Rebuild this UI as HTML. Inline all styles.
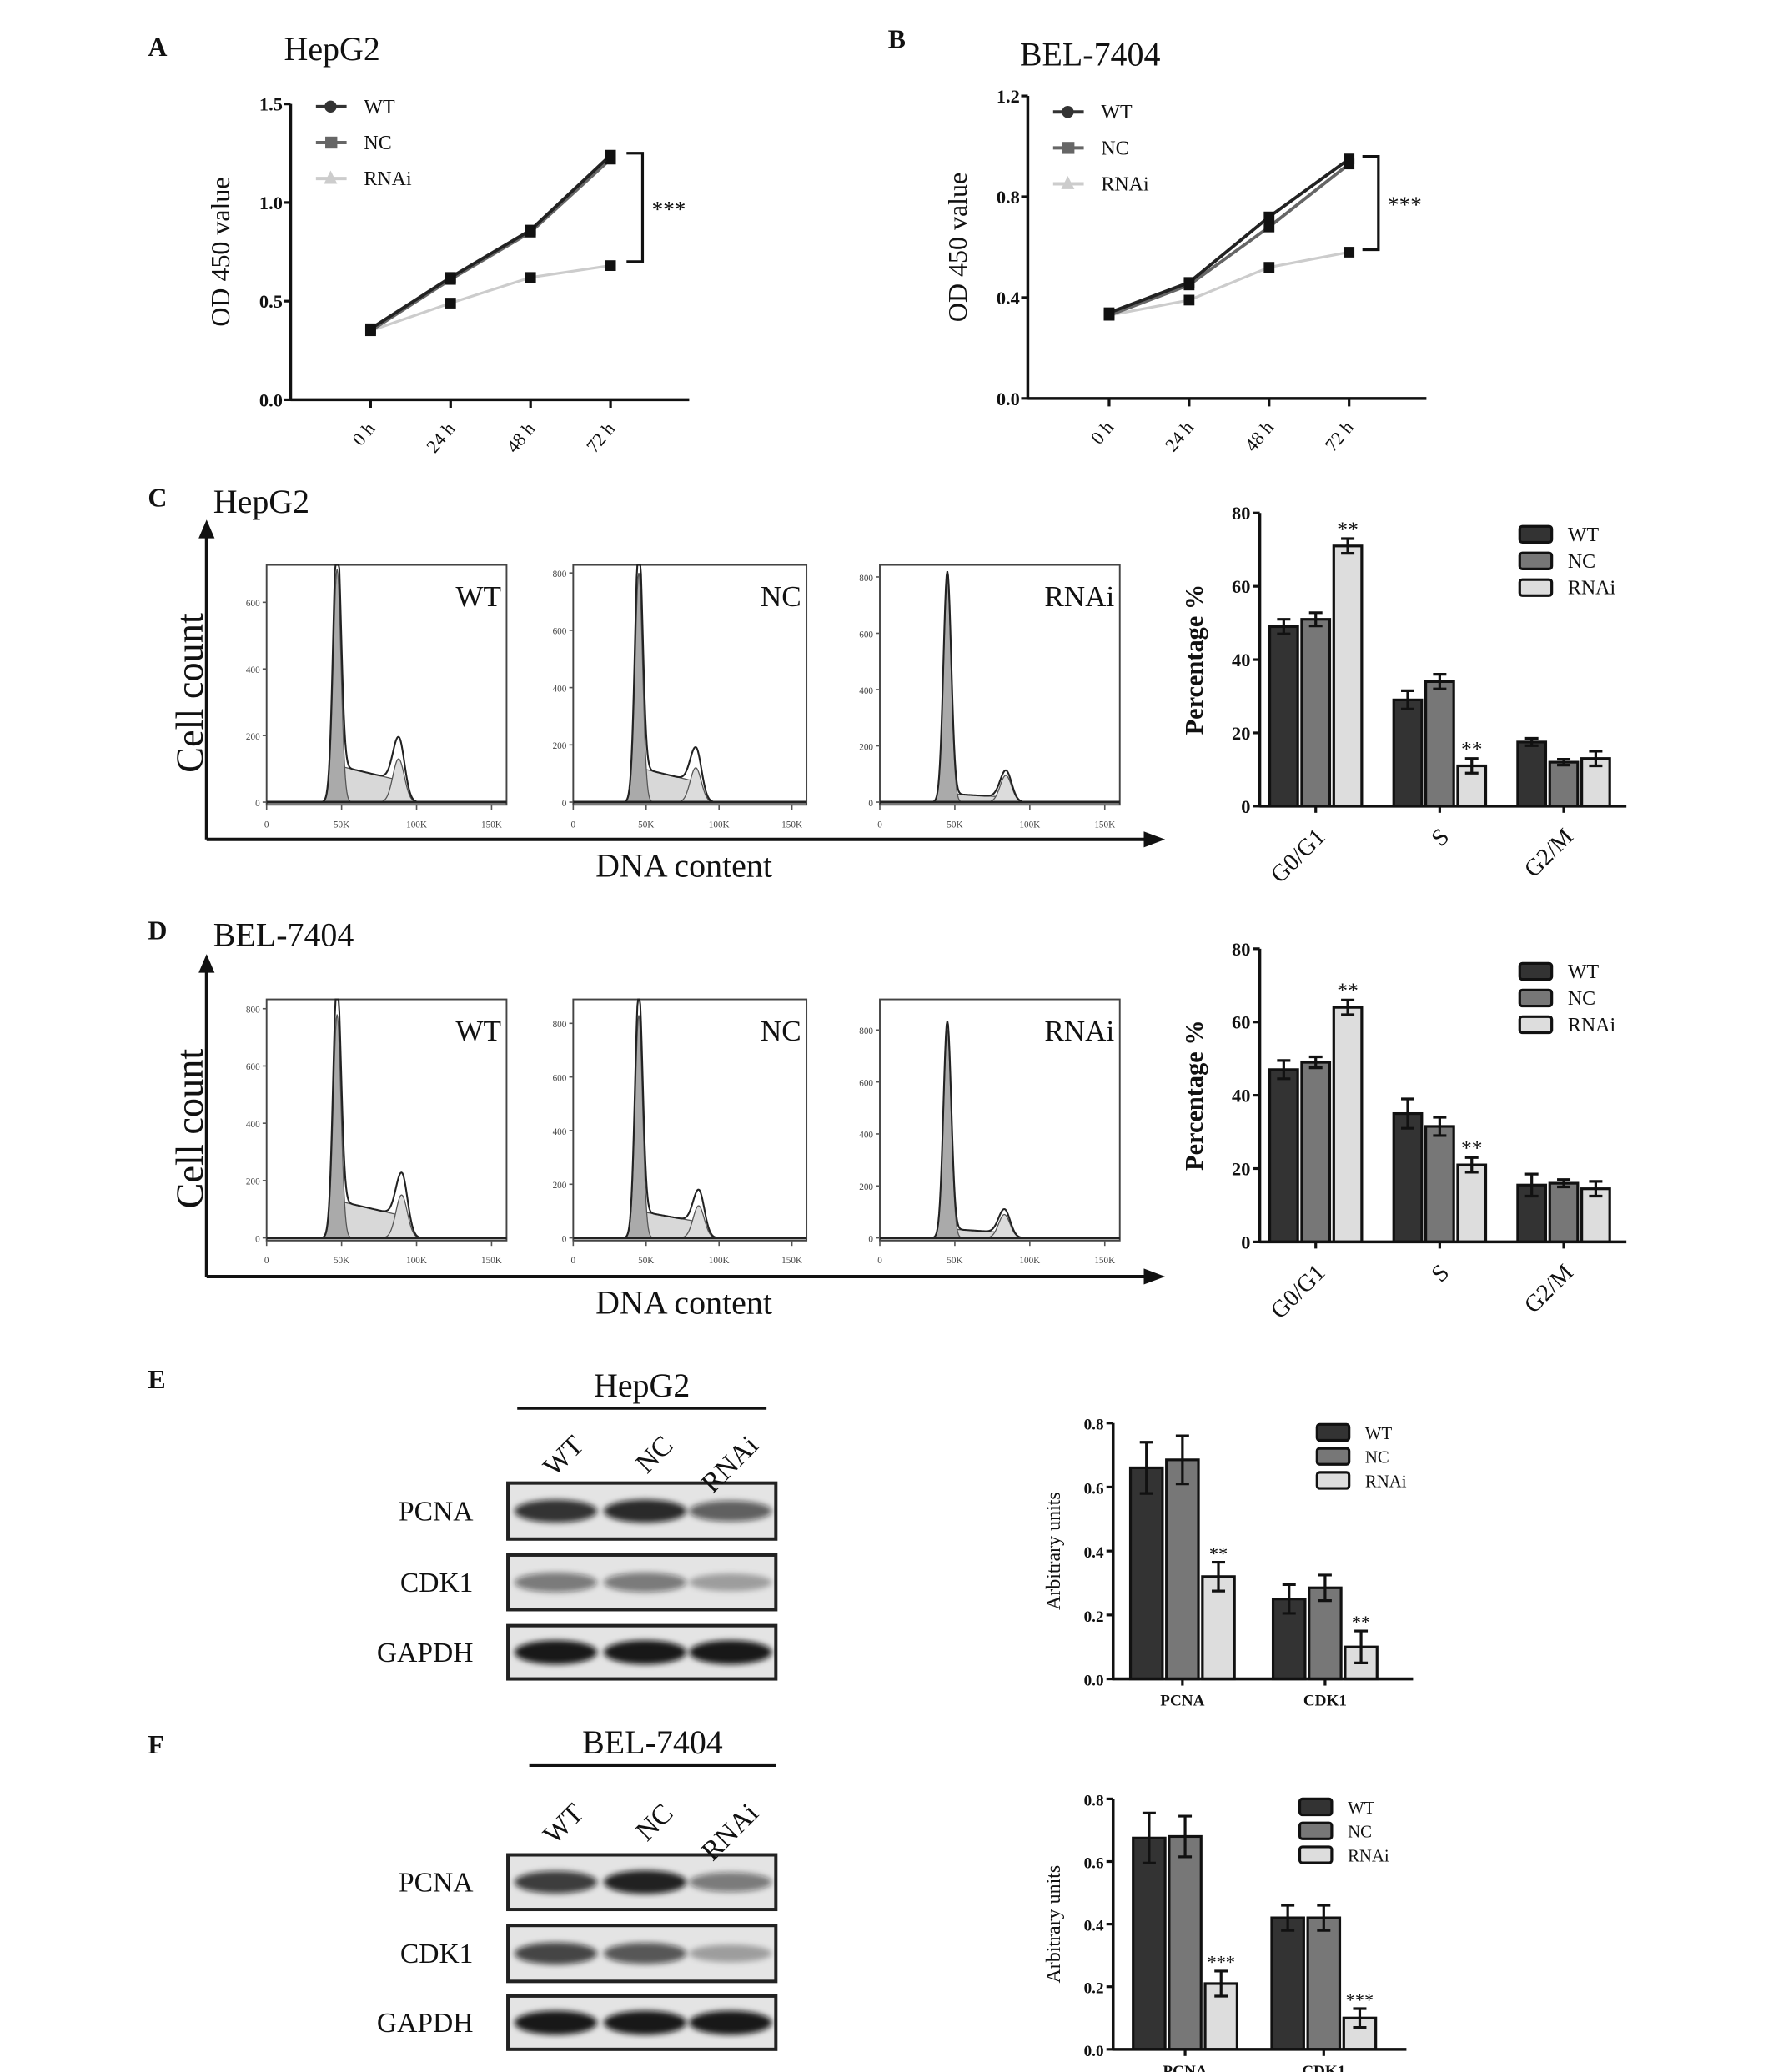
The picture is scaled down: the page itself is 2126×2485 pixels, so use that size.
<!DOCTYPE html>
<html><head><meta charset="utf-8"><style>
html,body{margin:0;padding:0;background:#fff;}
svg{display:block;font-family:"Liberation Serif",serif;}
</style></head><body>
<svg id="fig" width="2126" height="2485" viewBox="0 0 1330 1555" preserveAspectRatio="none" xmlns="http://www.w3.org/2000/svg">
<defs><filter id="blur" x="-20%" y="-50%" width="140%" height="200%"><feGaussianBlur stdDeviation="2.2"/></filter></defs>
</svg>
<script>
// ---------- data ----------
const timeCats=["0 h","24 h","48 h","72 h"];
const A_wt=[0.36,0.62,0.86,1.24];
const A_nc=[0.35,0.61,0.85,1.22];
const A_rnai=[0.35,0.49,0.62,0.68];
const A_ticks=[0,0.5,1.0,1.5];
const B_wt=[0.34,0.46,0.72,0.95];
const B_nc=[0.33,0.45,0.68,0.93];
const B_rnai=[0.33,0.39,0.52,0.58];
const B_ticks=[0,0.4,0.8,1.2];
const phaseCats=["G0/G1","S","G2/M"];
const C_wt=[49,29,17.5], C_wtErr=[2,2.5,1];
const C_nc=[51,34,12], C_ncErr=[1.8,2,0.8];
const C_rnai=[71,11,13], C_rnaiErr=[2,2,2];
const D_wt=[47,35,15.5], D_wtErr=[2.5,4,3];
const D_nc=[49,31.5,16], D_ncErr=[1.5,2.5,1];
const D_rnai=[64,21,14.5], D_rnaiErr=[2,2,2];
const pctTicks=[0,20,40,60,80];
const protCats=["PCNA","CDK1"];
const E_wt=[0.66,0.25], E_wtErr=[0.08,0.045];
const E_nc=[0.685,0.285], E_ncErr=[0.075,0.04];
const E_rnai=[0.32,0.10], E_rnaiErr=[0.045,0.05];
const F_wt=[0.675,0.42], F_wtErr=[0.08,0.04];
const F_nc=[0.68,0.42], F_ncErr=[0.065,0.04];
const F_rnai=[0.21,0.10], F_rnaiErr=[0.04,0.03];
const arbTicks=[0,0.2,0.4,0.6,0.8];
// flow histogram parameters: [G1 peak height, G1 pos(K), S level, G2 height, G2 pos(K)]
const hC_wt=[700,47,110,130,88], hC_nc=[800,45,120,120,84], hC_rnai=[790,45,30,95,84];
const hD_wt=[780,47,130,150,90], hD_nc=[830,45,100,120,86], hD_rnai=[800,45,35,90,83];
// blot intensities per lane
const E_blotPCNA=[0.85,0.9,0.6], E_blotCDK1=[0.45,0.45,0.2], E_blotGAPDH=[1,1,1];
const F_blotPCNA=[0.8,0.95,0.45], F_blotCDK1=[0.75,0.65,0.2], F_blotGAPDH=[1,1,1];

const NS="http://www.w3.org/2000/svg";
const svg=document.getElementById('fig');
function mk(tag,attrs,parent,txt){const e=document.createElementNS(NS,tag);for(const k in attrs)e.setAttribute(k,attrs[k]);if(txt!==undefined)e.textContent=txt;(parent||svg).appendChild(e);return e;}
function txt(x,y,s,size,opt,parent){opt=opt||{};const a={x:x,y:y,'font-size':size,fill:'#111'};if(opt.anchor)a['text-anchor']=opt.anchor;if(opt.bold)a['font-weight']='bold';if(opt.rot!==undefined)a.transform='rotate('+opt.rot+' '+x+' '+y+')';return mk('text',a,parent,s);}

// panel letters
[["A",111,42],["B",666,36],["C",111,380],["D",111,705],["E",111,1042],["F",111,1316]].forEach(p=>{
 const t=txt(p[1],p[2],p[0],20,{bold:true});
 
 
});

// ---------- line charts ----------
function lineChart(id,ox,yTop,yBot,xEnd,xs,ticks,ymax,series,title,tx,ty,bracket,legY){
 const g=mk('g',{});
 
 
 const Y=v=>yBot-(v/ymax)*(yBot-yTop);
 const X=i=>xs[0]+i*(xs[1]-xs[0]);
 const t=txt(tx,ty,title,25,{},g);
 
 
 mk('line',{x1:ox,y1:yTop,x2:ox,y2:yBot+1,stroke:'#111','stroke-width':2.2},g);
 mk('line',{x1:ox,y1:yBot,x2:xEnd,y2:yBot,stroke:'#111','stroke-width':2.2},g);
 ticks.forEach(v=>{mk('line',{x1:ox-5,y1:Y(v),x2:ox,y2:Y(v),stroke:'#111','stroke-width':2},g);
  const l=txt(ox-6,Y(v)+5,v.toFixed(1),14,{anchor:'end',bold:true},g);
  
  });
 timeCats.forEach((c,i)=>{mk('line',{x1:X(i),y1:yBot,x2:X(i),y2:yBot+6,stroke:'#111','stroke-width':2},g);
  const l=txt(X(i)+4,yBot+22,c,14,{anchor:'end',rot:-50},g);
  
  });
 const yt=txt(ox-46,(yTop+yBot)/2,'OD 450 value',20,{anchor:'middle',rot:-90},g);
 
 
 const cols=['#ccc','#666','#222'];
 const order=[series[2],series[1],series[0]];
 order.forEach((s,k)=>{
  const pts=s.map((v,i)=>X(i)+','+Y(v)).join(' ');
  const pl=mk('polyline',{points:pts,fill:'none',stroke:cols[k],'stroke-width':k==0?2:2.4},g);
  
  
  s.forEach((v,i)=>{const m=mk('rect',{x:X(i)-4,y:Y(v)-4,width:8,height:8,fill:'#111'},g);
   
   });
 });
 [['WT','#333'],['NC','#666'],['RNAi','#ccc']].forEach((e,k)=>{
  const lg=mk('g',{},g);
  
  
  const y=legY+k*27;
  mk('line',{x1:ox+19,y1:y,x2:ox+42,y2:y,stroke:e[1],'stroke-width':2.5},lg);
  if(k==0)mk('circle',{cx:ox+30,cy:y,r:4.5,fill:e[1]},lg);
  else if(k==1)mk('rect',{x:ox+26,y:y-4.5,width:9,height:9,fill:e[1]},lg);
  else mk('polygon',{points:(ox+30)+','+(y-6)+' '+(ox+35)+','+(y+4)+' '+(ox+25)+','+(y+4),fill:e[1]},lg);
  txt(ox+55,y+5,e[0],15,{},lg);
 });
 const b=bracket;
 const br=mk('polyline',{points:b[0]+','+Y(b[1])+' '+(b[0]+12)+','+Y(b[1])+' '+(b[0]+12)+','+Y(b[2])+' '+b[0]+','+Y(b[2]),fill:'none',stroke:'#111','stroke-width':2},g);
 
 
 const st=txt(b[0]+19,(Y(b[1])+Y(b[2]))/2+7,'***',17,{},g);
 
 
}
lineChart('a',218,78,300,517,[278,338],A_ticks,1.5,[A_wt,A_nc,A_rnai],'HepG2',213,45,[470,1.25,0.7],80);
lineChart('b',771,72,299,1070,[832,892],B_ticks,1.2,[B_wt,B_nc,B_rnai],'BEL-7404',765,49,[1022,0.96,0.59],84);

// ---------- flow histograms ----------
function hist(id,x0,x1,yTop,y0,yTickTop,tickMax,p,label){
 const g=mk('g',{});
 
 
 mk('rect',{x:x0,y:yTop,width:x1-x0,height:y0-yTop+2,fill:'#fff',stroke:'#444','stroke-width':1.2},g);
 const X=k=>x0+k/160*(x1-x0);
 const Y=v=>y0-v/tickMax*(y0-yTickTop);
 for(let v=0;v<=tickMax;v+=200){mk('line',{x1:x0-3,y1:Y(v),x2:x0,y2:Y(v),stroke:'#555'},g);
  const l=txt(x0-5,Y(v)+3,String(v),7,{anchor:'end'},g);l.setAttribute('fill','#444');
  
  }
 [0,50,100,150].forEach(k=>{mk('line',{x1:X(k),y1:y0+2,x2:X(k),y2:y0+6,stroke:'#555'},g);
  const l=txt(X(k),y0+19,k?k+'K':'0',7,{anchor:'middle'},g);l.setAttribute('fill','#444');
  
  });
 const [h1,c1,sL,h2,c2]=p;
 const g1=k=>h1*Math.exp(-Math.pow((k-c1)/2.6,2)/2);
 const g2=k=>h2*Math.exp(-Math.pow((k-c2)/3.8,2)/2);
 const sp=k=>(k>c1&&k<c2)?sL*(1-0.4*(k-c1)/(c2-c1)):(k<=c1?sL*Math.exp(-Math.pow((k-c1)/3,2)/2):sL*0.6*Math.exp(-Math.pow((k-c2)/4,2)/2));
 const fillPath=(f,col)=>{let d='M'+X(25)+','+y0;for(let k=25;k<=115;k+=0.5)d+=' L'+X(k)+','+Math.max(yTop,Y(f(k)));d+=' L'+X(115)+','+y0+'Z';
  return mk('path',{d:d,fill:col,stroke:'#555','stroke-width':0.8},g);};
 fillPath(sp,'#d8d8d8');
 fillPath(g2,'#dcdcdc');
 fillPath(g1,'#aaa');
 let d='';for(let k=25;k<=115;k+=0.5){const v=g1(k)+g2(k)+sp(k);d+=(d?' L':'M')+X(k)+','+Math.max(yTop,Y(v));}
 mk('path',{d:d,fill:'none',stroke:'#222','stroke-width':1.3},g);
 mk('line',{x1:x0,y1:y0,x2:x1,y2:y0,stroke:'#222','stroke-width':2},g);
 const t=txt(x1-4,yTop+31,label,22,{anchor:'end'},g);
 
 
}
function flowPanel(id,title,ty,axTop,axY,boxTop,boxBot,ticks,ps){
 const t=txt(160,ty,title,25,{});
 
 
 const ax=mk('g',{});
 
 
 mk('line',{x1:155,y1:axTop+10,x2:155,y2:axY,stroke:'#111','stroke-width':2.5},ax);
 mk('polygon',{points:'149,'+(axTop+14)+' 155,'+axTop+' 161,'+(axTop+14),fill:'#111'},ax);
 mk('line',{x1:155,y1:axY,x2:862,y2:axY,stroke:'#111','stroke-width':2.5},ax);
 mk('polygon',{points:'858,'+(axY-6)+' 874,'+axY+' 858,'+(axY+6),fill:'#111'},ax);
 txt(152,(axTop+axY)/2+10,'Cell count',29,{anchor:'middle',rot:-90},ax);
 txt(513,axY+28,'DNA content',25,{anchor:'middle'},ax);
 hist(id+'-wt',200,380,boxTop,boxBot,ticks[0][0],ticks[0][1],ps[0],'WT');
 hist(id+'-nc',430,605,boxTop,boxBot,ticks[1][0],ticks[1][1],ps[1],'NC');
 hist(id+'-rnai',660,840,boxTop,boxBot,ticks[2][0],ticks[2][1],ps[2],'RNAi');
}
flowPanel('c','HepG2',385,390,630,424,602,[[452,600],[430,800],[433,800]],[hC_wt,hC_nc,hC_rnai]);
flowPanel('d','BEL-7404',710,716,958,750,929,[[757,800],[768,800],[773,800]],[hD_wt,hD_nc,hD_rnai]);

// ---------- bar charts ----------
function barChart(id,o){
 const g=mk('g',{});
 
 
 const Y=v=>o.yBot-v/o.ymax*(o.yBot-o.yTop);
 const fills=['#333','#777','#ddd'];
 const series=[[o.wt,o.wtE],[o.nc,o.ncE],[o.rn,o.rnE]];
 o.cats.forEach((c,i)=>{
  series.forEach((s,k)=>{
   const x=o.gx[i]+(k-1)*o.step-o.bw/2;
   const r=mk('rect',{x:x,y:Y(s[0][i]),width:o.bw,height:o.yBot-Y(s[0][i]),fill:fills[k],stroke:'#111','stroke-width':2},g);
   
   
   const cx=x+o.bw/2,hi=Y(s[0][i]+s[1][i]),lo=Y(s[0][i]-s[1][i]);
   const eb=mk('path',{d:'M'+cx+','+hi+' V'+lo+' M'+(cx-5)+','+hi+' H'+(cx+5)+' M'+(cx-5)+','+lo+' H'+(cx+5),stroke:'#111','stroke-width':2,fill:'none'},g);
   
   
   if(k==2&&o.stars[i]){const st=txt(cx,hi-2,o.stars[i],o.fs+2,{anchor:'middle'},g);
    
    }
  });
  mk('line',{x1:o.gx[i],y1:o.yBot,x2:o.gx[i],y2:o.yBot+5,stroke:'#111','stroke-width':2},g);
  const l=o.rotX?txt(o.gx[i]+8,o.yBot+24,c,o.fs+4,{anchor:'end',rot:-45},g):txt(o.gx[i],o.yBot+20,c,o.fs,{anchor:'middle',bold:true},g);
  
  
 });
 mk('line',{x1:o.x0,y1:o.yTop,x2:o.x0,y2:o.yBot+1,stroke:'#111','stroke-width':2.2},g);
 mk('line',{x1:o.x0,y1:o.yBot,x2:o.x1,y2:o.yBot,stroke:'#111','stroke-width':2.2},g);
 o.ticks.forEach(v=>{mk('line',{x1:o.x0-5,y1:Y(v),x2:o.x0,y2:Y(v),stroke:'#111','stroke-width':2},g);
  const l=txt(o.x0-7,Y(v)+5,o.dec?v.toFixed(1):String(v),o.fs,{anchor:'end',bold:true},g);
  
  });
 const yt=txt(o.ytx,(o.yTop+o.yBot)/2,o.ytitle,o.ytfs,{anchor:'middle',rot:-90,bold:o.ytBold},g);
 
 
 ['WT','NC','RNAi'].forEach((n,k)=>{
  const lg=mk('g',{},g);
  
  
  const y=o.legY+k*o.legDy;
  mk('rect',{x:o.legX,y:y-6,width:24,height:12,rx:2,fill:fills[k],stroke:'#111','stroke-width':2},lg);
  txt(o.legX+36,y+5,n,o.fs+1,{},lg);
 });
}
barChart('c',{x0:945,x1:1220,yTop:385,yBot:605,ymax:80,ticks:pctTicks,gx:[987,1080,1173],step:24,bw:21,cats:phaseCats,
 wt:C_wt,wtE:C_wtErr,nc:C_nc,ncE:C_ncErr,rn:C_rnai,rnE:C_rnaiErr,stars:['**','**',''],fs:14,rotX:true,
 ytitle:'Percentage  %',ytx:902,ytfs:19,ytBold:true,legX:1140,legY:401,legDy:20,dec:false});
barChart('d',{x0:945,x1:1220,yTop:712,yBot:932,ymax:80,ticks:pctTicks,gx:[987,1080,1173],step:24,bw:21,cats:phaseCats,
 wt:D_wt,wtE:D_wtErr,nc:D_nc,ncE:D_ncErr,rn:D_rnai,rnE:D_rnaiErr,stars:['**','**',''],fs:14,rotX:true,
 ytitle:'Percentage  %',ytx:902,ytfs:19,ytBold:true,legX:1140,legY:729,legDy:20,dec:false});
barChart('e',{x0:835,x1:1060,yTop:1068,yBot:1260,ymax:0.8,ticks:arbTicks,gx:[887,994],step:27,bw:24,cats:protCats,
 wt:E_wt,wtE:E_wtErr,nc:E_nc,ncE:E_ncErr,rn:E_rnai,rnE:E_rnaiErr,stars:['**','**'],fs:12,rotX:false,
 ytitle:'Arbitrary units',ytx:795,ytfs:15,ytBold:false,legX:988,legY:1075,legDy:18,dec:true});
barChart('f',{x0:835,x1:1055,yTop:1350,yBot:1538,ymax:0.8,ticks:arbTicks,gx:[889,993],step:27,bw:24,cats:protCats,
 wt:F_wt,wtE:F_wtErr,nc:F_nc,ncE:F_ncErr,rn:F_rnai,rnE:F_rnaiErr,stars:['***','***'],fs:12,rotX:false,
 ytitle:'Arbitrary units',ytx:795,ytfs:15,ytBold:false,legX:975,legY:1356,legDy:18,dec:true});

// ---------- western blots ----------
function blotPanel(id,title,ty,lineX0,lineX1,rows,lblY){
 const g=mk('g',{});
 
 
 txt((lineX0+lineX1)/2,ty,title,25,{anchor:'middle'},g);
 mk('line',{x1:lineX0,y1:ty+9,x2:lineX1,y2:ty+9,stroke:'#111','stroke-width':2},g);
 const lanes=[417,484,548];
 rows.forEach(r=>{
  const rg=mk('g',{},g);
  
  
  mk('rect',{x:381,y:r.y,width:201,height:r.h,fill:'#e4e4e4',stroke:'#222','stroke-width':2.5},rg);
  r.vals.forEach((v,i)=>{const b=mk('ellipse',{cx:lanes[i],cy:r.y+r.h/2,rx:31,ry:6+3*v,fill:'#111','fill-opacity':0.15+0.8*v,filter:'url(#blur)'},rg);
   
   });
  txt(355,r.y+r.h/2+7,r.name,21,{anchor:'end'},rg);
 });
 ['WT','NC','RNAi'].forEach((n,i)=>{const l=txt(lanes[i]+22,lblY,n,21,{anchor:'end',rot:-45},g);
  
  });
}
blotPanel('e','HepG2',1048,388,575,[{name:'PCNA',y:1113,h:42,vals:E_blotPCNA},{name:'CDK1',y:1167,h:41,vals:E_blotCDK1},{name:'GAPDH',y:1220,h:40,vals:E_blotGAPDH}],1086);
blotPanel('f','BEL-7404',1316,397,582,[{name:'PCNA',y:1392,h:41,vals:F_blotPCNA},{name:'CDK1',y:1445,h:42,vals:F_blotCDK1},{name:'GAPDH',y:1498,h:40,vals:F_blotGAPDH}],1362);
</script>
</body></html>
